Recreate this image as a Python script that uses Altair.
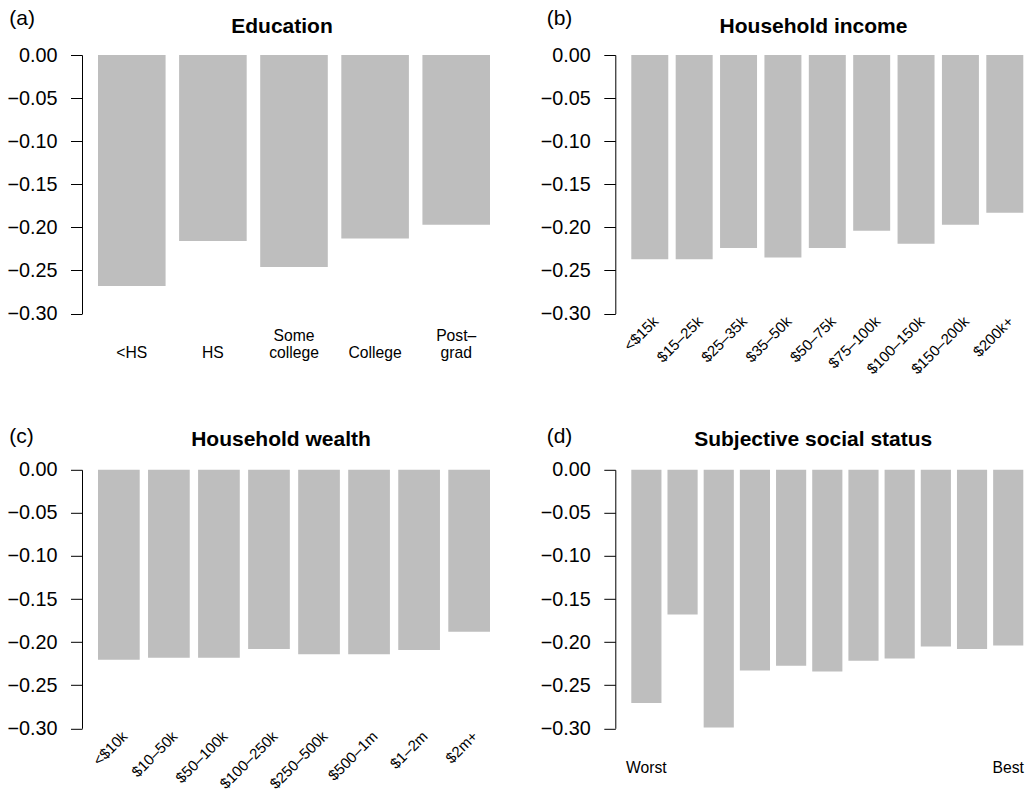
import json
import altair as alt
import pandas as pd

FONT = "Liberation Sans"
BAR_COLOR = "#bebebe"

# ---------------- data ----------------
EDU_CATS = ["<HS", "HS", "Some\ncollege", "College", "Post–\ngrad"]
EDU_VALS = [-0.268, -0.216, -0.246, -0.213, -0.197]

INC_CATS = ["<$15k", "$15–25k", "$25–35k", "$35–50k", "$50–75k",
            "$75–100k", "$100–150k", "$150–200k", "$200k+"]
INC_VALS = [-0.237, -0.237, -0.224, -0.235, -0.224, -0.204, -0.219, -0.197, -0.183]

WEA_CATS = ["<$10k", "$10–50k", "$50–100k", "$100–250k", "$250–500k",
            "$500–1m", "$1–2m", "$2m+"]
WEA_VALS = [-0.2205, -0.218, -0.218, -0.208, -0.214, -0.214, -0.209, -0.188]

SSS_CATS = [str(i) for i in range(1, 12)]
SSS_LABELS = ["Worst", "", "", "", "", "", "", "", "", "", "Best"]
SSS_VALS = [-0.2705, -0.168, -0.299, -0.233, -0.2275, -0.234, -0.2215,
            -0.219, -0.205, -0.208, -0.204]

Y_TICKS = [0.0, -0.05, -0.10, -0.15, -0.20, -0.25, -0.30]

TITLES = ["Education", "Household income", "Household wealth", "Subjective social status"]
TAGS = ["(a)", "(b)", "(c)", "(d)"]

# ---------------- layout ----------------
LEFT_W = 424
RIGHT_W = 411
H = 258.5
BAR_SPAN = 392
LEFT_GAP = 16
ROW_SPACING = 155.8
COL_SPACING = 109.3


def x_scale(n, width):
    pi = 1.0 / 6.0
    step = BAR_SPAN / (n - pi)
    po = (width / step - (n - pi)) / 2.0
    align = LEFT_GAP / (width - BAR_SPAN)
    return alt.Scale(paddingInner=pi, paddingOuter=po, align=align, round=False)


y_axis = alt.Axis(values=Y_TICKS, title=None, grid=False,
                  domain=True, domainColor="black", domainWidth=1,
                  ticks=True, tickColor="black", tickSize=11.5, tickWidth=1,
                  labelFontSize=19.8, labelPadding=13.5, labelColor="black",
                  labelFont=FONT,
                  labelExpr="(datum.value < -0.0001 ? '\u2212' : '') + format(abs(datum.value), '.2f')")

base_x = dict(title=None, domain=False, ticks=False, tickSize=0, grid=False,
              labelFont=FONT, labelColor="black")

axis_a = alt.Axis(labelAngle=0, labelAlign="center", labelBaseline="alphabetic",
                  labelPadding=26.8, labelLineHeight=17.7, labelFontSize=15.7,
                  labelExpr="indexof(datum.label, '\\n') >= 0 ? split(datum.label, '\\n') : ['', datum.label]",
                  **base_x)
axis_rot = alt.Axis(labelAngle=315, labelAlign="right", labelBaseline="middle",
                    labelOffset=6, labelPadding=5, labelFontSize=15, **base_x)
axis_d = alt.Axis(labelAngle=0, labelAlign="center", labelBaseline="alphabetic",
                  labelPadding=44.2, labelFontSize=15.7,
                  labelExpr=json.dumps(SSS_LABELS) + "[toNumber(datum.value) - 1]",
                  **base_x)


def panel(cats, vals, width, xaxis, title, tpos, tag, gpos, dummy=False):
    df = pd.DataFrame({"cat": cats, "val": vals})
    bars = alt.Chart(df).mark_bar(color=BAR_COLOR).encode(
        x=alt.X("cat:N", sort=cats, scale=x_scale(len(cats), width), axis=xaxis),
        y=alt.Y("val:Q", scale=alt.Scale(domain=[-0.3, 0], nice=False, zero=False),
                axis=y_axis),
    )
    one = pd.DataFrame({"k": [0]})
    ttl = alt.Chart(one).mark_text(text=title, font=FONT, fontSize=21, fontWeight="bold",
                                   align="center", baseline="alphabetic", color="black").encode(
        x=alt.value(tpos[0]), y=alt.value(tpos[1]))
    tg = alt.Chart(one).mark_text(text=tag, font=FONT, fontSize=21,
                                  align="left", baseline="alphabetic", color="black").encode(
        x=alt.value(gpos[0]), y=alt.value(gpos[1]))
    layers = [bars, ttl, tg]
    if dummy:
        anchor = alt.Chart(one).mark_rule(opacity=0, strokeOpacity=0).encode(
            x=alt.value(-81), x2=alt.value(-81), y=alt.value(-54), y2=alt.value(-54))
        layers.append(anchor)
    return alt.layer(*layers).properties(width=width, height=H)


pa = panel(EDU_CATS, EDU_VALS, LEFT_W, axis_a, TITLES[0], (200, -21.7), TAGS[0], (-72.7, -29.9), dummy=True)
pb = panel(INC_CATS, INC_VALS, RIGHT_W, axis_rot, TITLES[1], (198.2, -21.7), TAGS[1], (-68.6, -29.9))
pc = panel(WEA_CATS, WEA_VALS, LEFT_W, axis_rot, TITLES[2], (199, -23.6), TAGS[2], (-72.7, -26.8))
pd_ = panel(SSS_CATS, SSS_VALS, RIGHT_W, axis_d, TITLES[3], (197.9, -23.6), TAGS[3], (-68.6, -26.8))

chart = alt.concat(pa, pb, pc, pd_, columns=2,
                   spacing={"row": ROW_SPACING, "column": COL_SPACING},
                   bounds="flush").properties(padding=0).configure_view(stroke="transparent")

chart.save("out.html", embed_options={"renderer": "svg", "actions": False})
